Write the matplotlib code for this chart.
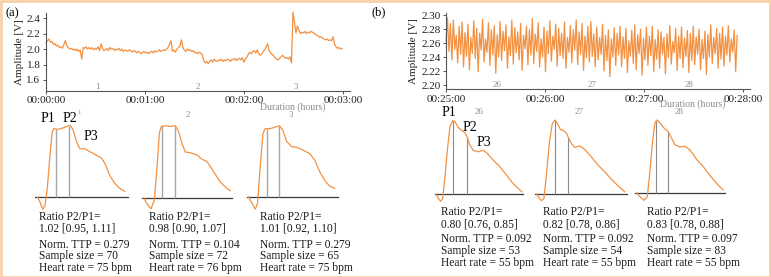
import numpy as np
import matplotlib
matplotlib.use("Agg")
import matplotlib.pyplot as plt
from matplotlib.patches import Rectangle

plt.rcParams['font.family'] = ['Liberation Serif', 'DejaVu Serif']

W, H = 771, 277
ORANGE = '#f39142'
GREY_TXT = '#8c8c8c'

# ---- data: top traces ----
# panel (a): amplitude [V] over the first 3 minutes
trace_a = [
    2.08, 2.11, 2.13, 2.09, 2.10, 2.06, 2.07, 2.04, 2.05, 2.02,
    2.03, 2.01, 2.06, 2.11, 2.04, 2.02, 2.00, 2.01, 1.99, 2.00,
    1.98, 2.00, 1.97, 1.99, 1.87, 2.02, 2.01, 2.03, 2.00, 2.02,
    2.00, 2.02, 1.99, 2.01, 2.00, 2.03, 1.98, 2.07, 2.01, 1.98,
    1.99, 2.01, 1.98, 2.02, 2.00, 2.01, 1.98, 2.00, 1.99, 2.01,
    1.98, 2.00, 1.97, 1.99, 1.98, 1.97, 1.99, 1.98, 1.96, 1.98,
    1.97, 1.95, 1.97, 1.96, 1.94, 1.96, 1.97, 1.95, 1.96, 1.94,
    1.96, 1.97, 1.95, 1.98, 1.96, 1.97, 1.99, 1.97, 1.98, 1.99,
    1.98, 2.00, 2.02, 2.06, 2.11, 1.97, 1.99, 1.96, 2.00, 2.02,
    2.04, 2.12, 2.02, 1.99, 1.97, 2.00, 1.98, 1.99, 1.97, 1.98,
    1.95, 1.96, 1.94, 1.96, 1.95, 1.93, 1.85, 1.82, 1.84, 1.81,
    1.84, 1.86, 1.83, 1.87, 1.85, 1.84, 1.86, 1.85, 1.87, 1.84,
    1.86, 1.85, 1.87, 1.86, 1.84, 1.87, 1.86, 1.88, 1.85, 1.87,
    1.88, 1.86, 1.89, 1.83, 1.87, 1.90, 1.93, 1.96, 1.94, 1.97,
    1.98, 1.95, 1.99, 1.94, 1.92, 1.94, 1.97, 1.99, 2.03, 2.07,
    1.98, 1.95, 1.93, 1.91, 1.89, 1.87, 1.86, 1.88, 1.90, 1.92,
    1.90, 1.88, 1.89, 1.87, 1.90, 1.82, 2.48, 2.35, 2.21, 2.30,
    2.25, 2.20, 2.22, 2.21, 2.23, 2.20, 2.22, 2.21, 2.23, 2.22,
    2.21, 2.19, 2.18, 2.17, 2.15, 2.16, 2.14, 2.13, 2.12, 2.13,
    2.11, 2.12, 2.11, 2.16, 2.06, 2.03, 2.01, 2.02, 2.00, 2.01,
]
trace_a_end = 2.99  # minutes

# panel (b): amplitude [V] from 00:25:00 on
trace_b = [
    2.262, 2.296, 2.248, 2.288, 2.236, 2.293, 2.251, 2.271, 2.232, 2.284,
    2.244, 2.290, 2.226, 2.275, 2.241, 2.287, 2.222, 2.268, 2.245, 2.292,
    2.238, 2.281, 2.219, 2.274, 2.250, 2.294, 2.233, 2.266, 2.247, 2.289,
    2.228, 2.279, 2.243, 2.285, 2.217, 2.272, 2.240, 2.291, 2.235, 2.277,
    2.249, 2.286, 2.224, 2.269, 2.242, 2.293, 2.230, 2.282, 2.246, 2.276,
    2.236, 2.288, 2.221, 2.271, 2.252, 2.284, 2.229, 2.279, 2.243, 2.295,
    2.231, 2.273, 2.248, 2.289, 2.226, 2.266, 2.240, 2.283, 2.219, 2.277,
    2.245, 2.292, 2.234, 2.270, 2.251, 2.287, 2.227, 2.281, 2.242, 2.274,
    2.238, 2.290, 2.224, 2.268, 2.247, 2.285, 2.232, 2.279, 2.250, 2.293,
    2.229, 2.276, 2.244, 2.288, 2.221, 2.270, 2.239, 2.284, 2.233, 2.291,
    2.241, 2.273, 2.226, 2.283, 2.236, 2.268, 2.244, 2.287, 2.220, 2.271,
    2.235, 2.279, 2.212, 2.266, 2.240, 2.282, 2.228, 2.274, 2.243, 2.284,
    2.226, 2.269, 2.238, 2.281, 2.218, 2.263, 2.241, 2.278, 2.231, 2.286,
    2.222, 2.272, 2.245, 2.280, 2.214, 2.267, 2.236, 2.283, 2.228, 2.270,
    2.242, 2.284, 2.219, 2.265, 2.237, 2.279, 2.224, 2.276, 2.244, 2.268,
    2.216, 2.273, 2.239, 2.285, 2.230, 2.262, 2.246, 2.281, 2.221, 2.270,
    2.238, 2.283, 2.225, 2.267, 2.241, 2.278, 2.218, 2.274, 2.235, 2.284,
    2.229, 2.269, 2.244, 2.280, 2.222, 2.265, 2.238, 2.277, 2.215, 2.272,
    2.240, 2.286, 2.231, 2.268, 2.245, 2.281, 2.224, 2.274, 2.237, 2.283,
    2.227, 2.270, 2.243, 2.285, 2.233, 2.266, 2.247, 2.279, 2.219, 2.271,
]
trace_b_end = 2.94

ticks_min = [0, 1, 2, 3]
ticklabels_a = ['00:00:00', '00:01:00', '00:02:00', '00:03:00']
ticklabels_b = ['00:25:00', '00:26:00', '00:27:00', '00:28:00']
yticks_a = [1.6, 1.8, 2.0, 2.2, 2.4]
yticks_b = [2.20, 2.22, 2.24, 2.26, 2.28, 2.30]
segments_a = ['1', '2', '3']
segments_b = ['26', '27', '28']
seg_pos_a = [0.52, 1.53, 2.52]
seg_pos_b = [0.52, 1.48, 2.45]

# ---- data: averaged pulse waveforms (normalised time, normalised amplitude) ----
wave_t = {
    'a1': [0.025, 0.054, 0.082, 0.107, 0.132, 0.161, 0.186, 0.204, 0.25, 0.304, 0.357, 0.382,
           0.411, 0.446, 0.482, 0.536, 0.589, 0.661, 0.714, 0.75, 0.804, 0.857, 0.911, 0.964],
    'a2': [0.019, 0.056, 0.10, 0.137, 0.167, 0.193, 0.215, 0.259, 0.315, 0.37, 0.407, 0.444,
           0.481, 0.537, 0.611, 0.667, 0.722, 0.796, 0.87, 0.944, 0.981],
    'a3': [0.018, 0.055, 0.091, 0.116, 0.145, 0.175, 0.2, 0.255, 0.309, 0.356, 0.393, 0.436,
           0.491, 0.545, 0.618, 0.691, 0.745, 0.8, 0.855, 0.909, 0.964],
    'b1': [0.011, 0.038, 0.064, 0.087, 0.113, 0.14, 0.17, 0.2, 0.226, 0.264, 0.302, 0.34,
           0.366, 0.396, 0.434, 0.491, 0.547, 0.585, 0.66, 0.736, 0.811, 0.887, 0.943, 0.989],
    'b2': [0.018, 0.047, 0.072, 0.097, 0.126, 0.155, 0.188, 0.217, 0.245, 0.278, 0.307, 0.343,
           0.368, 0.397, 0.433, 0.487, 0.542, 0.614, 0.686, 0.758, 0.83, 0.903, 0.975],
    'b3': [0.019, 0.056, 0.1, 0.137, 0.167, 0.196, 0.222, 0.241, 0.278, 0.322, 0.37, 0.407,
           0.444, 0.5, 0.556, 0.611, 0.685, 0.759, 0.833, 0.907, 0.981],
}
wave_a = {
    'a1': [0, -0.07, -0.17, -0.12, 0.12, 0.58, 0.91, 0.95, 0.94, 0.96, 0.99, 0.99,
           0.93, 0.77, 0.67, 0.67, 0.63, 0.58, 0.54, 0.47, 0.30, 0.19, 0.12, 0.08],
    'a2': [0, -0.08, -0.15, -0.03, 0.43, 0.89, 0.98, 0.99, 0.98, 0.99, 0.91, 0.75,
           0.63, 0.62, 0.59, 0.53, 0.50, 0.36, 0.22, 0.13, 0.10],
    'a3': [0, -0.09, -0.17, -0.09, 0.42, 0.88, 0.95, 0.95, 0.97, 0.99, 0.93, 0.77,
           0.70, 0.69, 0.65, 0.60, 0.51, 0.35, 0.23, 0.15, 0.12],
    'b1': [0, -0.06, -0.10, -0.06, 0.23, 0.59, 0.91, 0.99, 0.98, 0.90, 0.86, 0.83,
           0.77, 0.66, 0.59, 0.57, 0.59, 0.56, 0.46, 0.37, 0.26, 0.14, 0.08, 0.03],
    'b2': [0, -0.06, -0.09, -0.06, 0.28, 0.68, 0.95, 1.0, 0.95, 0.87, 0.86, 0.82,
           0.75, 0.68, 0.63, 0.65, 0.60, 0.50, 0.39, 0.30, 0.20, 0.11, 0.03],
    'b3': [0, -0.05, -0.10, -0.05, 0.31, 0.72, 0.96, 1.0, 0.96, 0.89, 0.84, 0.75,
           0.66, 0.63, 0.64, 0.59, 0.46, 0.36, 0.24, 0.13, 0.04],
}
# P1 / P2 marker times
markers = {
    'a1': [0.221, 0.364], 'a2': [0.222, 0.37], 'a3': [0.218, 0.356],
    'b1': [0.208, 0.366], 'b2': [0.217, 0.361], 'b3': [0.233, 0.37],
}
ratio = {
    'a1': '1.02 [0.95, 1.11]', 'a2': '0.98 [0.90, 1.07]', 'a3': '1.01 [0.92, 1.10]',
    'b1': '0.80 [0.76, 0.85]', 'b2': '0.82 [0.78, 0.86]', 'b3': '0.83 [0.78, 0.88]',
}
ttp = {'a1': 0.279, 'a2': 0.104, 'a3': 0.279, 'b1': 0.092, 'b2': 0.092, 'b3': 0.097}
sample_size = {'a1': 70, 'a2': 72, 'a3': 65, 'b1': 53, 'b2': 54, 'b3': 83}
heart_rate = {'a1': 75, 'a2': 76, 'a3': 75, 'b1': 55, 'b2': 55, 'b3': 55}


fig = plt.figure(figsize=(W / 100, H / 100), dpi=100)


def px_axes(left, top, right, bottom):
    return fig.add_axes([left / W, 1 - bottom / H, (right - left) / W, (bottom - top) / H])


def ftext(x, y, s, **kw):
    fig.text(x / W, 1 - y / H, s, **kw)


def trace_panel(box, values, t_end, ylim, yticks, yfmt, xlabels, segs, seg_pos):
    ax = px_axes(*box)
    t = np.linspace(0, t_end, len(values))
    ax.plot(t, values, color=ORANGE, lw=0.9, clip_on=False)
    ax.set_xlim(0, 3.07)
    ax.set_ylim(*ylim)
    ax.set_xticks(ticks_min)
    ax.set_xticklabels(xlabels)
    ax.set_yticks(yticks)
    ax.set_yticklabels([yfmt.format(v) for v in yticks])
    for s in ['top', 'right']:
        ax.spines[s].set_visible(False)
    for s in ['left', 'bottom']:
        ax.spines[s].set_color('#555555')
        ax.spines[s].set_linewidth(0.8)
    ax.tick_params(length=2.5, width=0.7, color='#555555', labelsize=8,
                   labelcolor='#222222', pad=1.5)
    ax.set_ylabel('Amplitude [V]', fontsize=8, color='#222222', labelpad=2)
    for lab, p in zip(segs, seg_pos):
        ax.text(p, ylim[0], lab, fontsize=6.5, color=GREY_TXT, ha='center', va='bottom')
    ax.patch.set_alpha(0)
    return ax


trace_panel((46, 12.9, 350, 90.7), trace_a, trace_a_end, (1.46, 2.47), yticks_a,
            '{:.1f}', ticklabels_a, segments_a, seg_pos_a)
trace_panel((446, 13.3, 750, 89.3), trace_b, trace_b_end, (2.194, 2.3025), yticks_b,
            '{:.2f}', ticklabels_b, segments_b, seg_pos_b)

ftext(293, 107, 'Duration (hours)', fontsize=7, color=GREY_TXT, ha='center', va='center')
ftext(693, 104, 'Duration (hours)', fontsize=7, color=GREY_TXT, ha='center', va='center')
ftext(12, 13, '(a)', fontsize=9, ha='center', va='center')
ftext(379, 12, '(b)', fontsize=9, ha='center', va='center')

# waveform boxes: left, peak y, right, baseline y
wave_boxes = {
    'a1': (35, 125, 128, 197), 'a2': (142, 125, 232, 198), 'a3': (247, 125, 338, 197),
    'b1': (435, 120, 523, 194), 'b2': (535, 120, 627, 194), 'b3': (635, 120, 725, 193),
}
vline_col = {'a': '#a6a6a6', 'b': '#8a8a8a'}
for key, box in wave_boxes.items():
    ax = px_axes(*box)
    ax.set_xlim(0, 1)
    ax.set_ylim(0, 1)
    ax.axis('off')
    ax.axhline(0, color='#3a3a3a', lw=0.9, clip_on=False)
    tt, aa = wave_t[key], wave_a[key]
    heights = np.interp(markers[key], tt, aa)
    ax.vlines(markers[key], 0, heights, color=vline_col[key[0]],
              lw=1.0 if key[0] == 'a' else 0.8, clip_on=False)
    ax.plot(tt, aa, color=ORANGE, lw=0.9, clip_on=False)

# segment numbers above waveforms
for lab, (x, y) in zip(['1', '2', '3', '26', '27', '28'],
                       [(79, 113), (188, 115), (291, 115), (479, 112), (579, 112), (679, 112)]):
    ftext(x, y, lab, fontsize=5 if lab == '1' else 6.5, color=GREY_TXT, ha='center', va='center')

# peak labels
for lab, (x, y) in zip(['P1', 'P2', 'P3'], [(48, 118), (70, 118), (91, 137)]):
    ftext(x, y, lab, fontsize=10, ha='center', va='center')
for lab, (x, y) in zip(['P1', 'P2', 'P3'], [(449, 112), (470, 127), (484, 142)]):
    ftext(x, y, lab, fontsize=10, ha='center', va='center')

# statistics under each waveform (two text blocks each)
text_x = {'a1': 39, 'a2': 149, 'a3': 260, 'b1': 441, 'b2': 543, 'b3': 647}
block_y = {'a': (223, 256.5, 0.93, 0.97), 'b': (218.5, 251, 1.03, 1.03)}
for key, x in text_x.items():
    y1, y2, ls1, ls2 = block_y[key[0]]
    ftext(x, y1, 'Ratio P2/P1=\n' + ratio[key], fontsize=8.3, ha='left', va='center',
          color='#1a1a1a', linespacing=ls1)
    stats = (f'Norm. TTP = {ttp[key]:.3f}\nSample size = {sample_size[key]}\n'
             f'Heart rate = {heart_rate[key]} bpm')
    ftext(x, y2, stats, fontsize=8.3, ha='left', va='center', color='#1a1a1a', linespacing=ls2)

# light frame round the figure
fig.patches.append(Rectangle((0.5 / W, 0.5 / H), 1 - 1.5 / W, 1 - 1.5 / H,
                             transform=fig.transFigure, fill=False,
                             edgecolor='#f9cfa8', lw=2))

fig.savefig('out.png', dpi=100)
